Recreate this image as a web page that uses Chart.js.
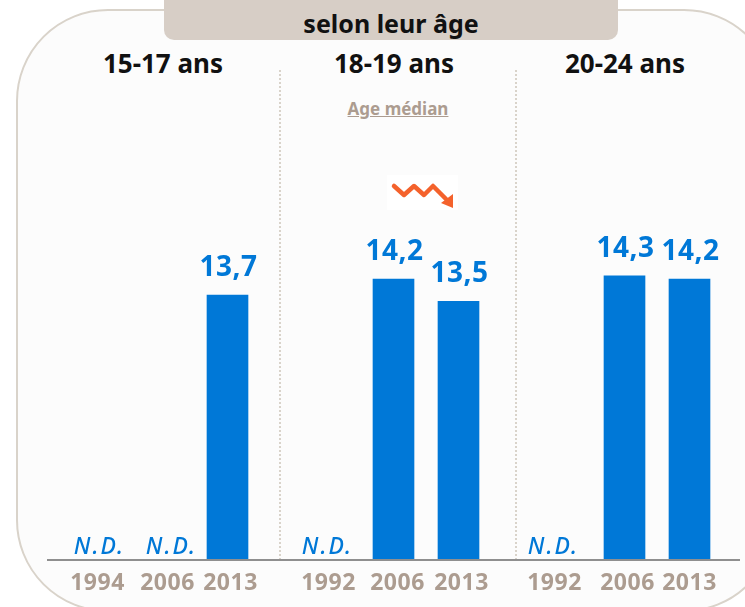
<!DOCTYPE html>
<html lang="fr">
<head>
<meta charset="utf-8">
<title>Age médian selon leur âge</title>
<script src="https://cdn.jsdelivr.net/npm/chart.js@4"></script>
<style>
  html, body { margin: 0; padding: 0; background: #fff; }
  body { width: 745px; height: 607px; overflow: hidden; position: relative; font-family: "Noto Sans", sans-serif; }
  .frame { position: absolute; left: 16px; top: 9px; width: 760px; height: 603px; border: 2px solid #d9d3ca; border-radius: 92px; background: #fcfcfc; box-sizing: border-box; }
  .titlebox { position: absolute; left: 164px; top: -12px; width: 454px; height: 52px; background: #d7cec6; border-radius: 10px; }
  .title { position: absolute; left: 164px; width: 454px; top: 7px; text-align: center; font-weight: 700; font-size: 25px; line-height: 32px; color: #111; }
  .head { position: absolute; top: 47px; width: 200px; text-align: center; font-weight: 700; font-size: 26px; line-height: 32px; color: #111; }
  .sub { position: absolute; left: 298px; width: 200px; top: 98px; text-align: center; font-weight: 700; font-size: 17px; line-height: 22px; color: #ac9c90; text-decoration: underline; }
  .sep { position: absolute; top: 70px; height: 490px; width: 0; border-left: 2px dotted #d9d3ca; }
  .axis { position: absolute; left: 47px; top: 559px; width: 693px; height: 2px; background: #8f8f8f; }
  .trend { position: absolute; left: 387px; top: 175px; width: 71px; height: 35px; background: #fff; }
  canvas { position: absolute; top: 100px; }
</style>
</head>
<body>
<div class="frame"></div>
<div class="titlebox"></div>
<div class="title">selon leur âge</div>
<div class="head" style="left:63px">15-17 ans</div>
<div class="head" style="left:294px">18-19 ans</div>
<div class="head" style="left:525px">20-24 ans</div>
<div class="sub">Age médian</div>
<div class="sep" style="left:279px"></div>
<div class="sep" style="left:515px"></div>
<svg class="trend" viewBox="0 0 71 35">
  <polyline points="7,11 17,20 27,11 37,20 46,11 59,24" fill="none" stroke="#f4622c" stroke-width="4.5" stroke-linecap="round" stroke-linejoin="round"/>
  <polygon points="54,28 66,19 66,33" fill="#f4622c"/>
</svg>
<canvas id="panel1" width="255" height="500" style="left:35px"></canvas>
<canvas id="panel2" width="255" height="500" style="left:266px"></canvas>
<canvas id="panel3" width="255" height="500" style="left:497px"></canvas>
<div class="axis"></div>

<script>
const years1 = ['1994', '2006', '2013'];
const years2 = ['1992', '2006', '2013'];
const years3 = ['1992', '2006', '2013'];

const ages1 = [null, null, 13.7];
const ages2 = [null, 14.2, 13.5];
const ages3 = [null, 14.3, 14.2];

// the year labels and N.D. sit a little off the bar centres in the original
const yearNudge1 = [0, 5, 3];
const yearNudge2 = [0, 4, 3];
const yearNudge3 = [-5, 3, 0];
const naNudge1 = [2, 9, 0];
const naNudge2 = [-1, 0, 0];
const naNudge3 = [-6, 0, 0];

const blue = '#0078d7';
const taupe = '#ac9c90';
const labelFont = '"Noto Sans", sans-serif';

// draws values (or N.D.) over the bars and the years under the axis
const barText = {
    id: 'barText',
    afterDatasetsDraw(chart, args, opts) {
        const ctx = chart.ctx;
        const x = chart.scales.x;
        const y = chart.scales.y;
        ctx.save();
        ctx.textAlign = 'center';
        ctx.textBaseline = 'alphabetic';
        chart.data.labels.forEach((year, i) => {
            const cx = x.getPixelForValue(i);
            const v = chart.data.datasets[0].data[i];
            if (v === null) {
                ctx.letterSpacing = '2px';
                ctx.font = 'italic 500 23px ' + labelFont;
                ctx.fillStyle = blue;
                ctx.fillText('N.D.', cx + opts.naNudge[i], y.bottom - 6);
            } else {
                ctx.letterSpacing = '0.5px';
                ctx.font = '700 28px ' + labelFont;
                ctx.fillStyle = blue;
                ctx.fillText(String(v).replace('.', ','), cx + 1, y.getPixelForValue(v) - 19);
            }
            ctx.letterSpacing = '0.5px';
            ctx.font = '700 23px ' + labelFont;
            ctx.fillStyle = taupe;
            ctx.fillText(year, cx + opts.yearNudge[i], y.bottom + 30);
        });
        ctx.restore();
    }
};

function drawPanel(id, years, ages, yearNudge, naNudge) {
    new Chart(document.getElementById(id), {
        type: 'bar',
        data: {
            labels: years,
            datasets: [{
                data: ages,
                backgroundColor: blue,
                barThickness: 41
            }]
        },
        options: {
            responsive: false,
            animation: false,
            layout: { padding: { left: 30, right: 30, top: 0, bottom: 40 } },
            scales: {
                x: { display: false },
                y: { display: false, min: 5.4, max: 19.81 }
            },
            plugins: {
                legend: { display: false },
                tooltip: { enabled: false },
                barText: { yearNudge: yearNudge, naNudge: naNudge }
            }
        },
        plugins: [barText]
    });
}

drawPanel('panel1', years1, ages1, yearNudge1, naNudge1);
drawPanel('panel2', years2, ages2, yearNudge2, naNudge2);
drawPanel('panel3', years3, ages3, yearNudge3, naNudge3);
</script>
</body>
</html>
